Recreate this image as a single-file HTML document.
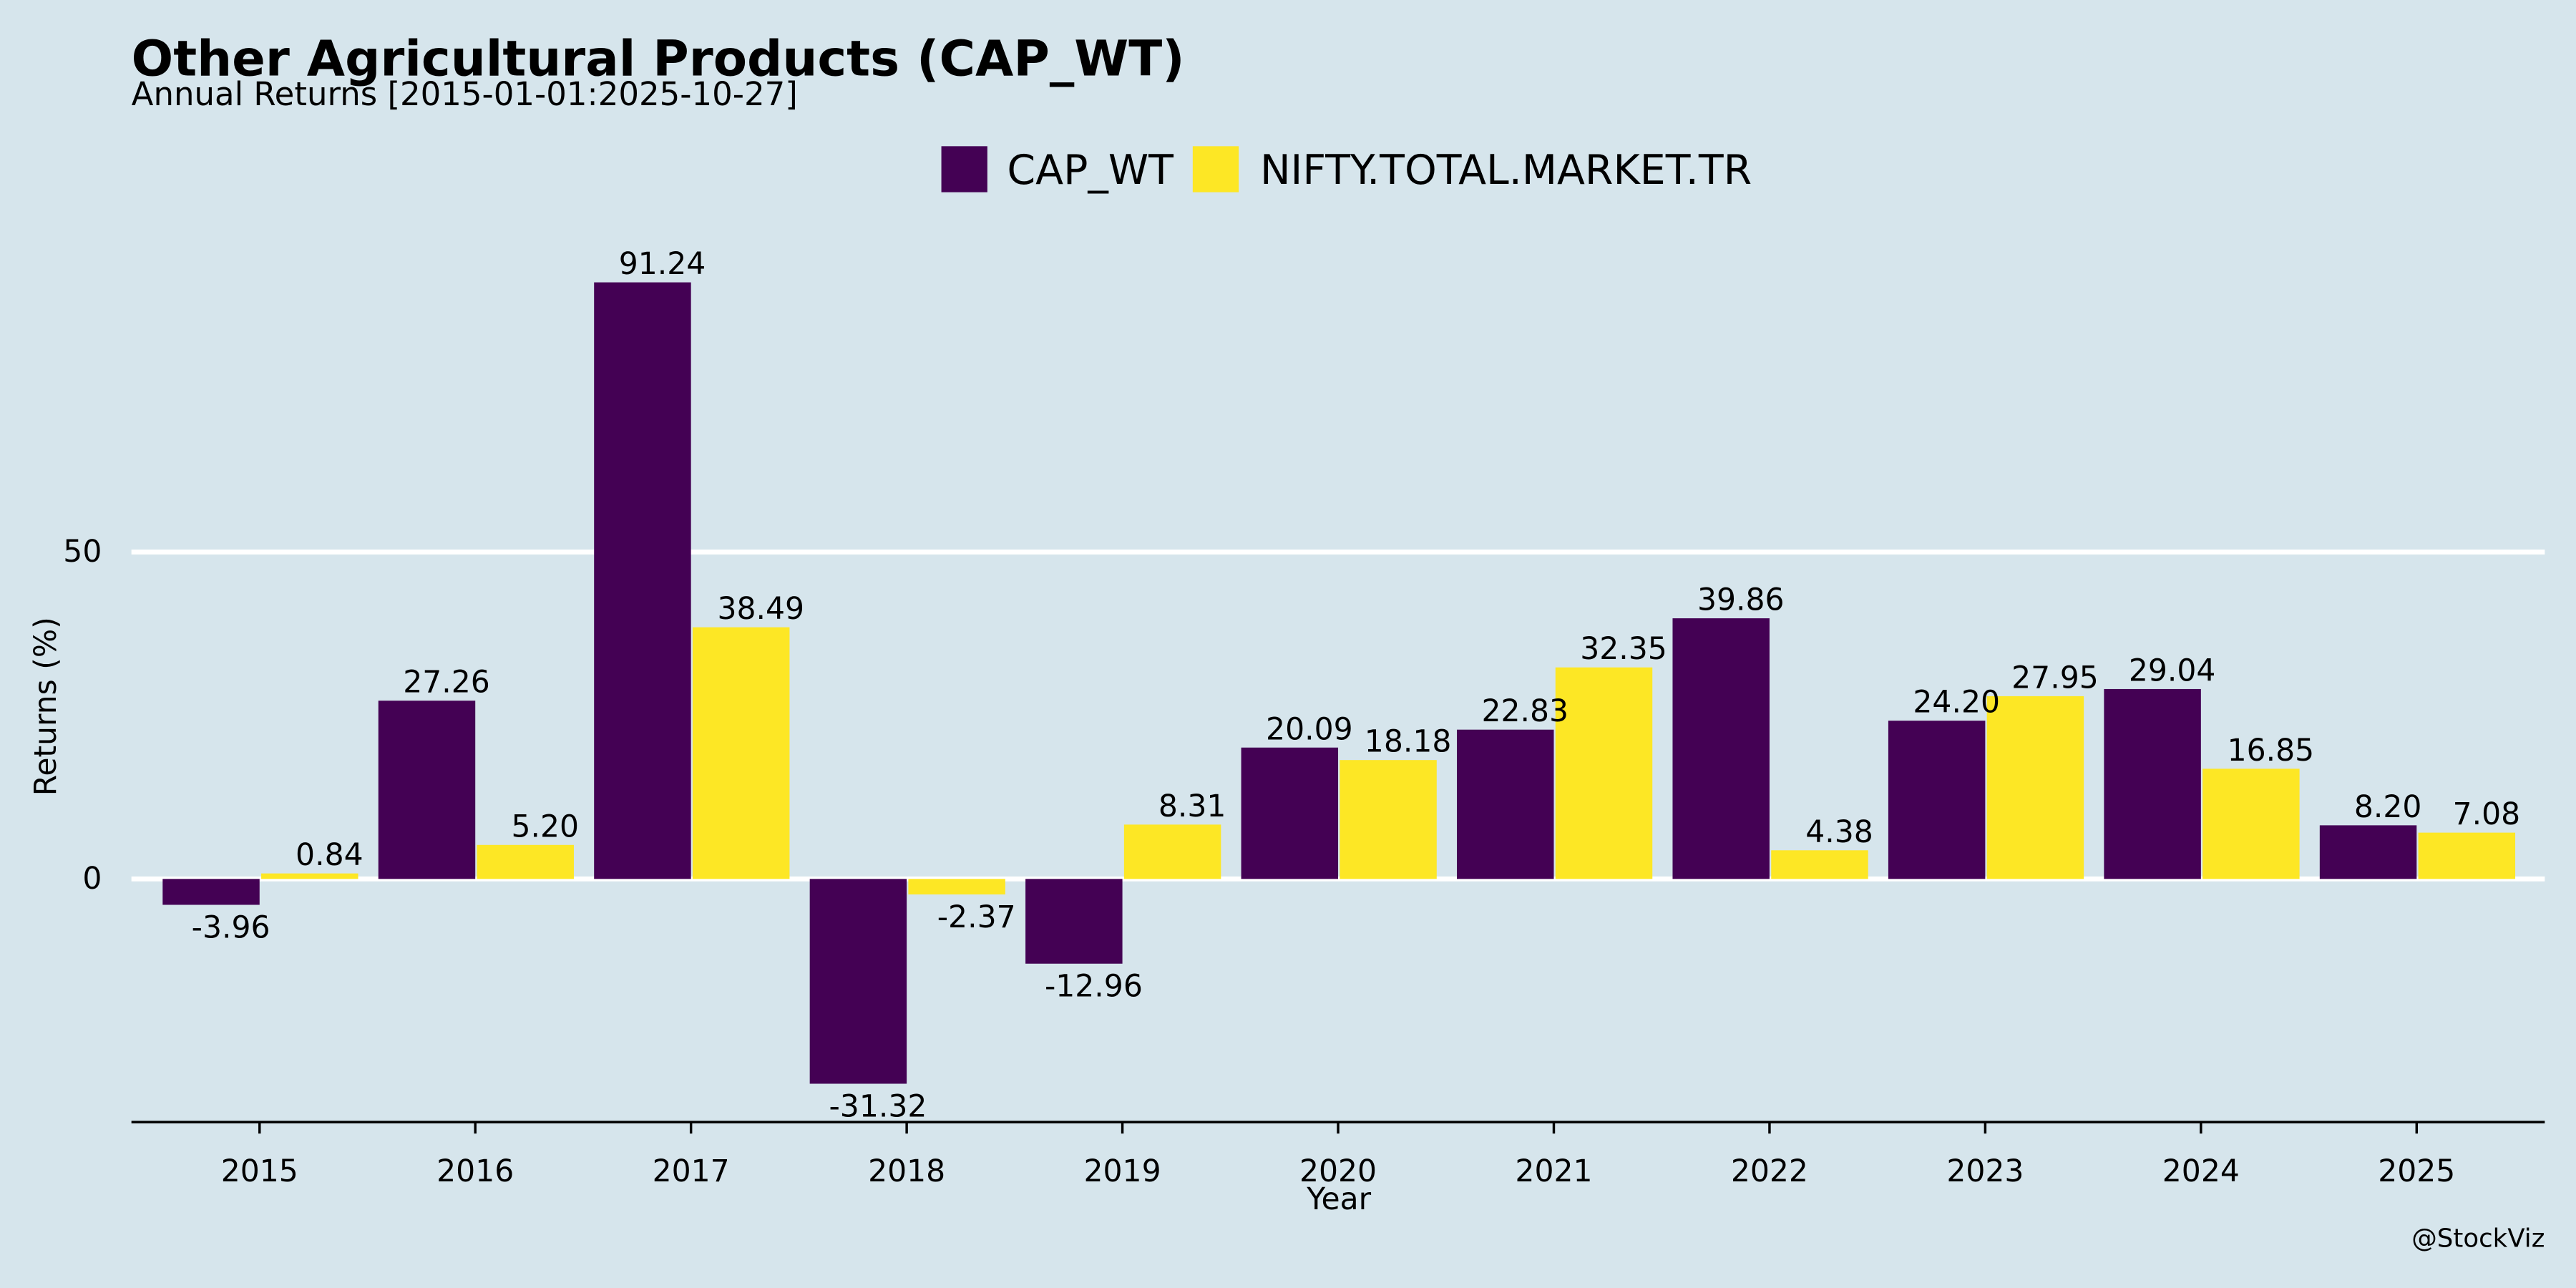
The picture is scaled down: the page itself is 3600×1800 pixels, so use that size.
<!DOCTYPE html>
<html><head><meta charset="utf-8"><style>
html,body{margin:0;padding:0;background:#d6e5ec;}
svg{display:block;font-family:"DejaVu Sans","Liberation Sans",sans-serif;}
</style></head><body>
<svg id="chart" width="3600" height="1800" viewBox="0 0 1568 784" xmlns="http://www.w3.org/2000/svg">
<rect x="0" y="0" width="1568" height="784" fill="#d6e5ec"/>
<text x="80" y="46" font-size="30" font-weight="bold" fill="#000">Other Agricultural Products (CAP_WT)</text>
<text x="80" y="64" font-size="19.6" fill="#000">Annual Returns [2015-01-01:2025-10-27]</text>
<g>
<rect x="573" y="89" width="28" height="28" fill="#440154"/>
<text x="613" y="112" font-size="24.8">CAP_WT</text>
<rect x="726" y="89" width="28" height="28" fill="#fde725"/>
<text x="767" y="112" font-size="24.8">NIFTY.TOTAL.MARKET.TR</text>
</g>
<g id="grid"></g>
<g id="bars"></g>
<g id="labels"></g>
<g id="axes"></g>
<text transform="translate(34,430) rotate(-90)" text-anchor="middle" font-size="18.5">Returns (%)</text>
<text x="815" y="736" text-anchor="middle" font-size="18.5">Year</text>
<text x="1549" y="759" text-anchor="end" font-size="15.5">@StockViz</text>
</svg>
<script>
const categories = ["2015","2016","2017","2018","2019","2020","2021","2022","2023","2024","2025"];
const capValues = [-3.96,27.26,91.24,-31.32,-12.96,20.09,22.83,39.86,24.20,29.04,8.20];
const niftyValues = [0.84,5.20,38.49,-2.37,8.31,18.18,32.35,4.38,27.95,16.85,7.08];
const yTicks = [0,50];

const NS="http://www.w3.org/2000/svg";
const x0=158, step=131.3, barW=59;
const xC=i=>x0+i*step;
const y=v=>535-v*3.98;
function mk(tag,attrs,parent,text){const e=document.createElementNS(NS,tag);for(const k in attrs)e.setAttribute(k,attrs[k]);if(text!==undefined)e.textContent=text;document.getElementById(parent).appendChild(e);return e;}

yTicks.forEach(t=>{
  const l=mk("line",{x1:80,x2:1549,y1:y(t),y2:y(t),stroke:"#fff","stroke-width":3},"grid");
  
  
  const tx=mk("text",{x:62,y:y(t)+6,"text-anchor":"end","font-size":18.5},"grid",String(t));
  
  
});

function series(vals,color,side,name){
  vals.forEach((v,i)=>{
    const bx=side<0?xC(i)-barW:xC(i)+1;
    const top=Math.min(y(v),y(0)), h=Math.abs(y(v)-y(0));
    const r=mk("rect",{x:bx,y:top,width:barW,height:h,fill:color},"bars");
    
    
    const lx=bx+barW/2+12;
    const ly=v>=0?y(v)-5:y(v)+20;
    const t=mk("text",{x:lx,y:ly,"text-anchor":"middle","font-size":18.5},"labels",v.toFixed(2));
    
    
  });
}
series(capValues,"#440154",-1,"cap-wt");
series(niftyValues,"#fde725",1,"nifty");

const ax=mk("line",{x1:80,x2:1549,y1:683,y2:683,stroke:"#000","stroke-width":1.5},"axes");


categories.forEach((c,i)=>{
  const tk=mk("line",{x1:xC(i),x2:xC(i),y1:683,y2:690,stroke:"#000","stroke-width":1.5},"axes");
  
  
  const t=mk("text",{x:xC(i),y:719,"text-anchor":"middle","font-size":18.5},"axes",c);
  
  
});
</script>
</body></html>
